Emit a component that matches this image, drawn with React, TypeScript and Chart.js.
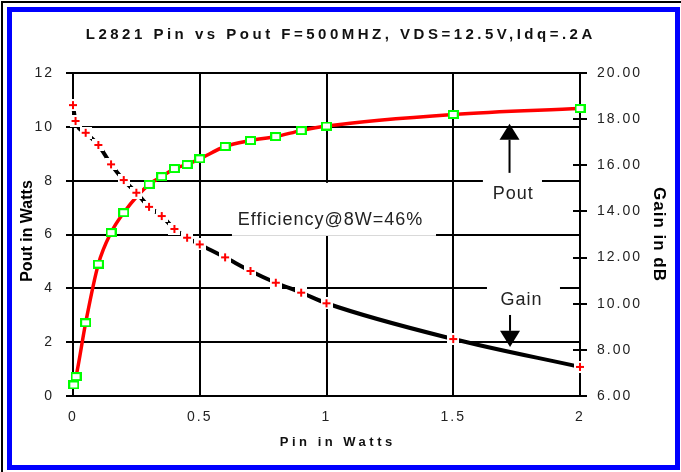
import React, { useEffect, useRef } from 'react';
import { Chart, registerables } from 'chart.js';

Chart.register(...registerables);

// ---- data ----
const pinPout = [0.003, 0.012, 0.05, 0.1, 0.15, 0.2, 0.3, 0.35, 0.4, 0.45, 0.5, 0.6, 0.7, 0.8, 0.9, 1.0, 1.5, 2.0];
const poutWatts = [0.41, 0.72, 2.72, 4.9, 6.07, 6.81, 7.86, 8.15, 8.45, 8.6, 8.81, 9.27, 9.49, 9.64, 9.86, 10.03, 10.46, 10.68];
const pinGain = [0, 0.01, 0.05, 0.1, 0.15, 0.2, 0.25, 0.3, 0.35, 0.4, 0.45, 0.5, 0.6, 0.7, 0.8, 0.9, 1.0, 1.5, 2.0];
const gainDb = [18.61, 17.92, 17.41, 16.88, 16.04, 15.36, 14.81, 14.2, 13.8, 13.24, 12.86, 12.57, 12.01, 11.42, 10.91, 10.48, 10.02, 8.47, 7.26];

const xRange = [0, 2];
const xStep = 0.5;
const poutRange = [0, 12];
const poutStep = 2;
const gainRange = [6, 20];
const gainStep = 2;

const TITLE = 'L2821 Pin vs Pout F=500MHZ, VDS=12.5V,Idq=.2A';
const X_TITLE = 'Pin in Watts';
const Y_TITLE = 'Pout in Watts';
const Y2_TITLE = 'Gain in dB';
const EFF_LABEL = 'Efficiency@8W=46%';
const POUT_LABEL = 'Pout';
const GAIN_LABEL = 'Gain';

const FONT = "Arial, 'Liberation Sans', Helvetica, sans-serif";

function makeCross(): HTMLCanvasElement {
  const c = document.createElement('canvas');
  c.width = 12; c.height = 12;
  const g = c.getContext('2d')!;
  g.fillStyle = '#ffffff';
  g.fillRect(0, 0, 12, 12);
  g.fillStyle = '#ff0000';
  g.fillRect(2, 5, 8, 2);
  g.fillRect(5, 2, 2, 8);
  return c;
}

function makeSquare(): HTMLCanvasElement {
  const c = document.createElement('canvas');
  c.width = 11; c.height = 9;
  const g = c.getContext('2d')!;
  g.fillStyle = '#ffffff';
  g.fillRect(0, 0, 11, 9);
  g.strokeStyle = '#00ff00';
  g.lineWidth = 2;
  g.strokeRect(1, 1, 9, 7);
  return c;
}

function drawText(ctx: CanvasRenderingContext2D, s: string, x: number, y: number, font: string, spacing: number, color = '#111', rot = 0) {
  ctx.save();
  ctx.translate(x, y);
  if (rot) ctx.rotate(rot);
  ctx.font = font;
  (ctx as any).letterSpacing = spacing + 'px';
  ctx.textAlign = 'center';
  ctx.textBaseline = rot ? 'middle' : 'alphabetic';
  ctx.fillStyle = color;
  ctx.fillText(s, spacing / 2, 0);
  ctx.restore();
}

const decor = {
  id: 'decor',
  beforeDraw(chart: any) {
    const ctx: CanvasRenderingContext2D = chart.ctx;
    ctx.save();
    ctx.fillStyle = '#ffffff';
    ctx.fillRect(0, 0, chart.width, chart.height);
    ctx.fillStyle = '#000000';
    ctx.fillRect(1, 1, chart.width - 1, 2);
    ctx.fillRect(1, 1, 2, chart.height - 1);
    ctx.strokeStyle = '#0000ff';
    ctx.lineWidth = 5;
    ctx.strokeRect(9.5, 9.5, 668, 458);
    drawText(ctx, TITLE, 339, 39, `bold 15px ${FONT}`, 3.5, '#111');
    ctx.restore();
    (ctx as any).letterSpacing = '2px';
  },
  beforeDatasetsDraw(chart: any) {
    const ctx: CanvasRenderingContext2D = chart.ctx;
    const xs = chart.scales.x;
    const ys = chart.scales.y;
    const y2 = chart.scales.y1;
    const area = chart.chartArea;
    const px = (v: number) => xs.getPixelForValue(v);
    const py = (v: number) => ys.getPixelForValue(v);
    ctx.save();
    // inner half of the right-axis cross ticks
    ctx.fillStyle = '#000';
    y2.ticks.forEach((t: any) => {
      const y = Math.round(y2.getPixelForValue(t.value));
      ctx.fillRect(area.right - 7, y - 1, 7, 2);
    });
    // white label boxes
    ctx.fillStyle = '#ffffff';
    const box = (x0: number, x1: number, yTop: number, yBot: number) => {
      ctx.fillRect(px(x0), py(yTop), px(x1) - px(x0), py(yBot) - py(yTop));
    };
    box(0.627, 1.432, 7.92, 5.95);
    box(1.617, 1.85, 8.18, 6.99);
    box(1.633, 1.921, 4.16, 3.12);
    // labels
    drawText(ctx, EFF_LABEL, px(1.014), py(6.36), `18px ${FONT}`, 1, '#222');
    drawText(ctx, POUT_LABEL, px(1.735), py(7.32), `18px ${FONT}`, 1, '#222');
    drawText(ctx, GAIN_LABEL, px(1.767), py(3.37), `18px ${FONT}`, 1, '#222');
    // arrows
    ctx.fillStyle = '#000';
    const arrow = (x: number, shaftEnd: number, headBase: number, tip: number) => {
      const cx = px(x);
      const a = py(shaftEnd), b = py(headBase), c = py(tip);
      ctx.fillRect(cx - 1, Math.min(a, b), 2, Math.abs(b - a));
      ctx.beginPath();
      ctx.moveTo(cx - 10, b);
      ctx.lineTo(cx + 10, b);
      ctx.lineTo(cx, c);
      ctx.closePath();
      ctx.fill();
    };
    arrow(1.722, 8.29, 9.52, 10.11);
    arrow(1.724, 3.01, 2.42, 1.82);
    // axis titles
    drawText(ctx, X_TITLE, 336, 446, `bold 13px ${FONT}`, 3.5, '#111');
    drawText(ctx, Y_TITLE, 28, 231, `bold 16px ${FONT}`, 0, '#000', -Math.PI / 2);
    drawText(ctx, Y2_TITLE, 659, 234, `bold 17px ${FONT}`, 1, '#000', Math.PI / 2);
    ctx.restore();
    (ctx as any).letterSpacing = '2px';
  },
  afterDraw(chart: any) {
    (chart.ctx as any).letterSpacing = '0px';
  },
};

export default function App() {
  const ref = useRef<HTMLCanvasElement>(null);
  useEffect(() => {
    const cross = makeCross();
    const square = makeSquare();
    const tickFont = { family: FONT, size: 14 };
    const chart = new Chart(ref.current!, {
      type: 'line',
      data: {
        datasets: [
          {
            label: 'Gain',
            data: pinGain.map((x, i) => ({ x, y: gainDb[i] })),
            yAxisID: 'y1',
            borderColor: '#000000',
            borderWidth: 4,
            pointStyle: cross as any,
            pointRadius: 6,
            cubicInterpolationMode: 'monotone',
            clip: false as any,
            fill: false,
          },
          {
            label: 'Pout',
            data: pinPout.map((x, i) => ({ x, y: poutWatts[i] })),
            yAxisID: 'y',
            borderColor: '#ff0000',
            borderWidth: 3.5,
            pointStyle: square as any,
            pointRadius: 5,
            cubicInterpolationMode: 'monotone',
            clip: false as any,
            fill: false,
          },
        ],
      },
      options: {
        responsive: false,
        animation: false,
        devicePixelRatio: 1,
        layout: { padding: { top: 73, left: 0, right: 0, bottom: 0 } },
        plugins: {
          legend: { display: false },
          tooltip: { enabled: false },
          title: { display: false },
        },
        scales: {
          x: {
            type: 'linear',
            position: 'bottom',
            min: xRange[0],
            max: xRange[1],
            ticks: { stepSize: xStep, padding: 13, color: '#222', font: tickFont, callback: (v: any) => String(Number(v)) },
            grid: { color: '#000', lineWidth: 2, drawTicks: false },
            border: { color: '#000', width: 2 },
            afterFit: (s: any) => { s.height = 76; },
          },
          y: {
            type: 'linear',
            position: 'left',
            min: poutRange[0],
            max: poutRange[1],
            ticks: { stepSize: poutStep, padding: 12, color: '#222', font: tickFont },
            grid: { color: '#000', lineWidth: 2, tickLength: 7, tickColor: '#000' },
            border: { color: '#000', width: 2 },
            afterFit: (s: any) => { s.width = 73; },
          },
          y1: {
            type: 'linear',
            position: 'right',
            min: gainRange[0],
            max: gainRange[1],
            ticks: {
              stepSize: gainStep,
              padding: 10,
              color: '#222',
              font: tickFont,
              callback: (v: any) => Number(v).toFixed(2),
            },
            grid: { drawOnChartArea: false, color: '#000', lineWidth: 2, tickLength: 7, tickColor: '#000' },
            border: { color: '#000', width: 2 },
            afterFit: (s: any) => { s.width = 101; },
          },
        },
      } as any,
      plugins: [decor],
    });
    return () => chart.destroy();
  }, []);
  return (
    <div style={{ position: 'fixed', left: 0, top: 0, width: 681, height: 472, background: '#fff' }}>
      <canvas ref={ref} width={681} height={472} style={{ display: 'block', width: 681, height: 472 }} />
    </div>
  );
}
